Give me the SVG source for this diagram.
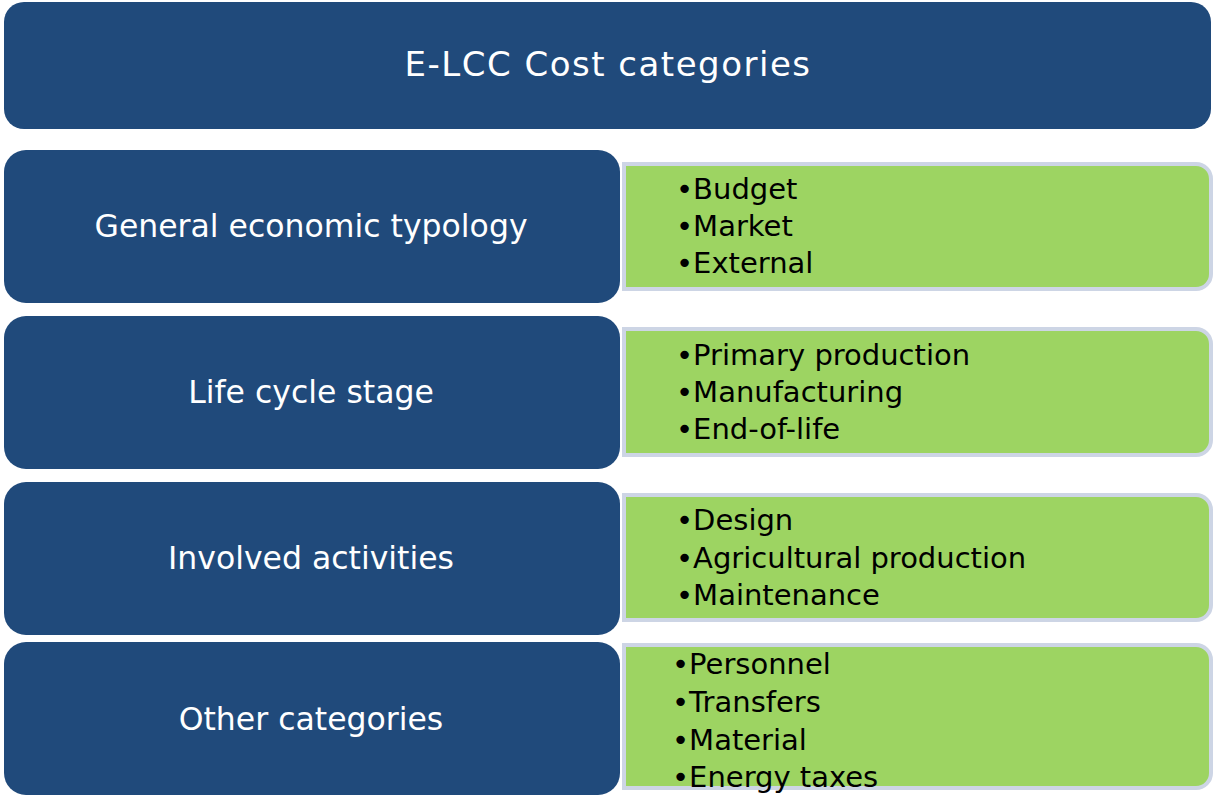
<svg xmlns="http://www.w3.org/2000/svg" width="1215" height="796" viewBox="0 0 1215 796">
<style>
.blue{fill:#204a7b;}
.green{fill:#9dd462;stroke:#cdd5e5;stroke-width:4;}
.lbl{font-family:"DejaVu Sans",Verdana,sans-serif;font-size:31.5px;fill:#ffffff;text-anchor:middle;}
.title{font-family:"DejaVu Sans",Verdana,sans-serif;font-size:34px;fill:#ffffff;text-anchor:middle;letter-spacing:1.5px;}
.item{font-family:"DejaVu Sans",Verdana,sans-serif;font-size:29px;fill:#000000;}
</style>
<rect width="1215" height="796" fill="#ffffff"/>
<g id="title">
<rect class="blue" x="4" y="2" width="1207" height="127" rx="20"/>
<text class="title" x="608" y="76">E-LCC Cost categories</text>
</g>
<g id="connectors"></g>
<g id="row1">
<rect class="blue" x="4" y="150" width="616" height="153" rx="22"/>
<text class="lbl" x="311" y="237">General economic typology</text>
</g>
<g id="list1">
<path class="green" d="M624,164 H1196 A15,15 0 0 1 1211,179 V274 A15,15 0 0 1 1196,289 H624 Z"/>
<text class="item" x="676" y="199">•Budget</text>
<text class="item" x="676" y="236">•Market</text>
<text class="item" x="676" y="273">•External</text>
</g>
<g id="row2">
<rect class="blue" x="4" y="316" width="616" height="153" rx="22"/>
<text class="lbl" x="311" y="403">Life cycle stage</text>
</g>
<g id="list2">
<path class="green" d="M624,329 H1196 A15,15 0 0 1 1211,344 V440 A15,15 0 0 1 1196,455 H624 Z"/>
<text class="item" x="676" y="365">•Primary production</text>
<text class="item" x="676" y="402">•Manufacturing</text>
<text class="item" x="676" y="439">•End-of-life</text>
</g>
<g id="row3">
<rect class="blue" x="4" y="482" width="616" height="153" rx="22"/>
<text class="lbl" x="311" y="569">Involved activities</text>
</g>
<g id="list3">
<path class="green" d="M624,495 H1196 A15,15 0 0 1 1211,510 V605 A15,15 0 0 1 1196,620 H624 Z"/>
<text class="item" x="676" y="530">•Design</text>
<text class="item" x="676" y="568">•Agricultural production</text>
<text class="item" x="676" y="605">•Maintenance</text>
</g>
<g id="row4">
<rect class="blue" x="4" y="642" width="616" height="153" rx="22"/>
<text class="lbl" x="311" y="730">Other categories</text>
</g>
<g id="list4">
<path class="green" d="M624,645 H1196 A15,15 0 0 1 1211,660 V773 A15,15 0 0 1 1196,788 H624 Z"/>
<text class="item" x="672" y="674">•Personnel</text>
<text class="item" x="672" y="712">•Transfers</text>
<text class="item" x="672" y="750">•Material</text>
<text class="item" x="672" y="787">•Energy taxes</text>
</g>
</svg>
